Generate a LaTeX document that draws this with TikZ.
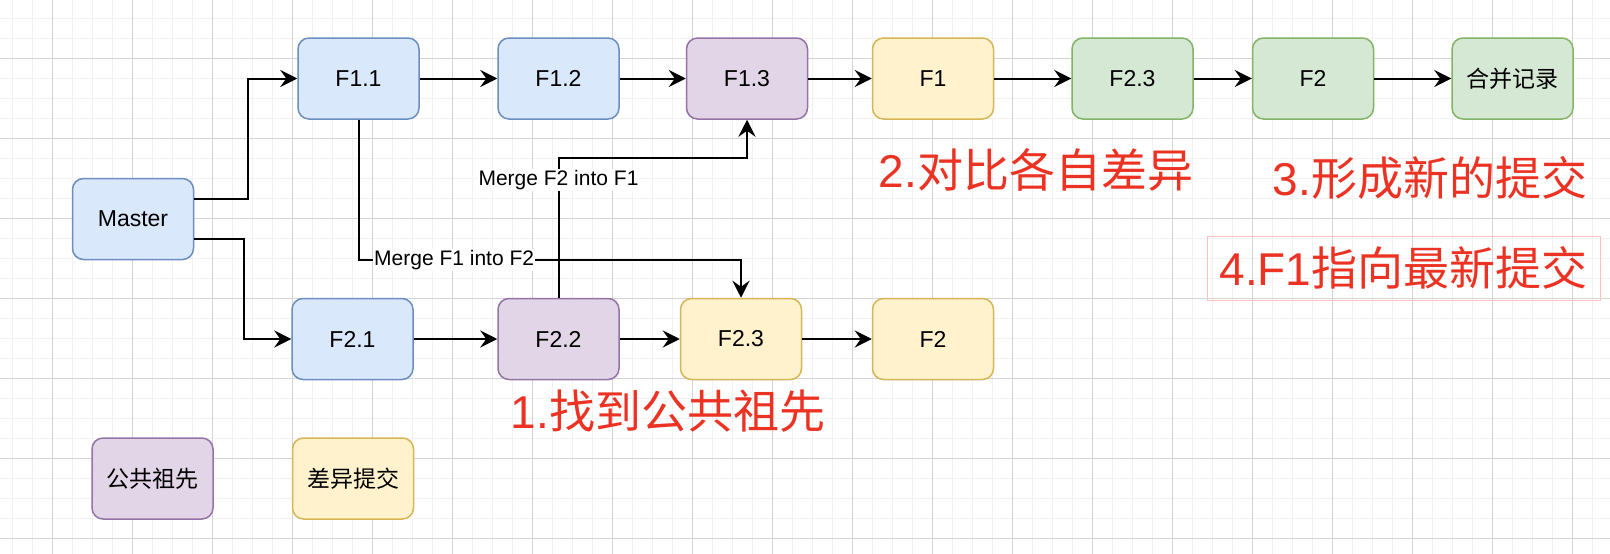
\documentclass[tikz,border=0pt]{standalone}
\usepackage{fontspec}
\setmainfont{Liberation Sans}
\newfontfamily\cjk{Noto Sans CJK SC}
\usepackage{xcolor}
\usetikzlibrary{arrows.meta}

\definecolor{blueFill}{HTML}{DAE8FC}
\definecolor{blueLine}{HTML}{6C8EBF}
\definecolor{purpleFill}{HTML}{E1D5E7}
\definecolor{purpleLine}{HTML}{9673A6}
\definecolor{yellowFill}{HTML}{FFF2CC}
\definecolor{yellowLine}{HTML}{D6B656}
\definecolor{greenFill}{HTML}{D5E8D4}
\definecolor{greenLine}{HTML}{82B366}
\definecolor{noteRed}{HTML}{EC3323}
\definecolor{gridMinor}{HTML}{F2F2F2}
\definecolor{gridMajor}{HTML}{D4D4D4}

\begin{document}
\begin{tikzpicture}[x=1pt, y=-1pt,
    commit/.style={rounded corners=11pt, line width=1.5pt, minimum width=121pt,
        minimum height=81pt, inner sep=0pt, font=\fontsize{23}{27}\selectfont},
    bluebox/.style={commit, fill=blueFill, draw=blueLine},
    purplebox/.style={commit, fill=purpleFill, draw=purpleLine},
    yellowbox/.style={commit, fill=yellowFill, draw=yellowLine},
    greenbox/.style={commit, fill=greenFill, draw=greenLine},
    edge/.style={line width=2pt, -{Stealth[length=17pt, width=17pt, inset=6pt]}},
    mergelabel/.style={fill=white, inner sep=1pt, font=\fontsize{21}{25}\selectfont},
    note/.style={text=noteRed, inner sep=0pt, font=\fontsize{46}{52}\selectfont}]

    \useasboundingbox (0,0) rectangle (1610,554);

    % Grid background
    \fill[white] (0,0) rectangle (1610,554);
    \foreach \x in {12.5,32.5,...,1610} {
        \draw[gridMinor, line width=1pt] (\x,0) -- (\x,554);
    }
    \foreach \y in {18.3,38.3,...,554} {
        \draw[gridMinor, line width=1pt] (0,\y) -- (1610,\y);
    }
    \foreach \x in {52.5,132.5,...,1610} {
        \draw[gridMajor, line width=1pt] (\x,0) -- (\x,554);
    }
    \foreach \y in {58.3,138.3,...,554} {
        \draw[gridMajor, line width=1pt] (0,\y) -- (1610,\y);
    }

    % Commits
    \node[bluebox] (master) at (133,219) {Master};

    \node[bluebox] (f11) at (358.5,78.5) {F1.1};
    \node[bluebox] (f12) at (558.5,78.5) {F1.2};
    \node[purplebox] (f13) at (747,78.5) {F1.3};
    \node[yellowbox] (f1) at (933,78.5) {F1};
    \node[greenbox] (f23top) at (1132.5,78.5) {F2.3};
    \node[greenbox] (f2top) at (1313,78.5) {F2};
    \node[greenbox] (merged) at (1512.5,78.5) {\cjk 合并记录};

    \node[bluebox] (f21) at (352.5,339) {F2.1};
    \node[purplebox] (f22) at (558.5,339) {F2.2};
    \node[yellowbox] (f23) at (741,339) {F2.3};
    \node[yellowbox] (f2) at (933,339) {F2};

    % Legend
    \node[purplebox] (ancestor) at (152.5,478.5) {\cjk 公共祖先};
    \node[yellowbox] (diffcommit) at (353,478.5) {\cjk 差异提交};

    % Branch lines
    \draw[edge] ([yshift=20pt]master.east) -- ++(54,0) |- (f11.west);
    \draw[edge] ([yshift=-20pt]master.east) -- ++(50,0) |- (f21.west);
    \draw[edge] (f11) -- (f12);
    \draw[edge] (f12) -- (f13);
    \draw[edge] (f13) -- (f1);
    \draw[edge] (f1) -- (f23top);
    \draw[edge] (f23top) -- (f2top);
    \draw[edge] (f2top) -- (merged);
    \draw[edge] (f21) -- (f22);
    \draw[edge] (f22) -- (f23);
    \draw[edge] (f23) -- (f2);

    % Merges
    \draw[edge] (f11.south) -- ++(0,140) -| (f23.north)
        node[mergelabel, pos=0.125] {Merge F1 into F2};
    \draw[edge] (f22.north) -- node[mergelabel, pos=0.84] {Merge F2 into F1}
        ++(0,-140) -| (f13.south);

    % Steps
    \node[note] (step1) at (668,411) {1.{\cjk 找到公共祖先}};
    \node[note] (step2) at (1036,170) {2.{\cjk 对比各自差异}};
    \node[note] (step3) at (1430,178) {3.{\cjk 形成新的提交}};
    \node[note, draw=noteRed!30, line width=1pt, minimum width=393pt,
        minimum height=64pt] (step4) at (1403.5,268) {4.F1{\cjk 指向最新提交}};
\end{tikzpicture}
\end{document}
